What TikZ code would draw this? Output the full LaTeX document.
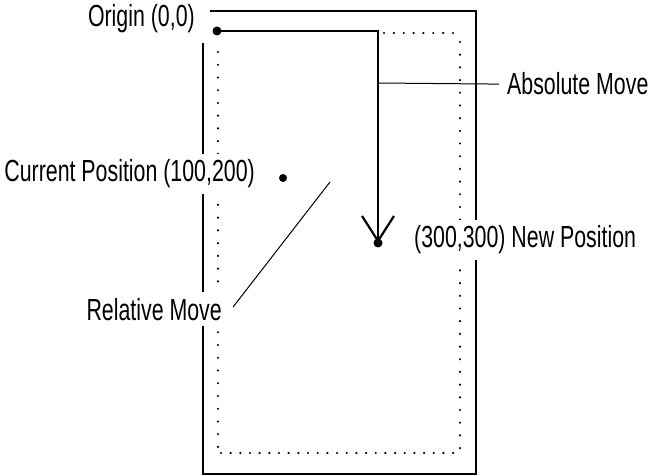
\documentclass[tikz,border=0pt]{standalone}
\usepackage{fontspec}
\setmainfont{Liberation Sans}[FakeStretch=0.70]
\usetikzlibrary{arrows.meta}
\begin{document}
\begin{tikzpicture}[x=1pt,y=-1pt,
  frame/.style={line width=2.8pt,line join=miter},
  pathline/.style={line width=2.4pt},
  leader/.style={line width=1pt},
  dotpt/.style={fill=black},
  dotnode/.style={circle,fill=black,inner sep=0pt,minimum size=9pt},
  lbl/.style={font=\fontsize{30.5}{30.5}\selectfont,fill=white,inner xsep=2pt,inner ysep=6pt}]
\useasboundingbox (0,0) rectangle (649,476);
% outer frame
\draw[frame] (210,11) -- (476,11) -- (476,474) -- (203,474) -- (203,43);
% dotted inner rectangle
\foreach \i in {0,...,7} \fill[dotpt] (384+\i*9.857,33) circle (1.2pt);
\foreach \i in {0,...,32} \fill[dotpt] (460,42+\i*12.69) circle (1.2pt);
\foreach \i in {0,...,24} \fill[dotpt] (221+\i*9.67,453) circle (1.2pt);
\foreach \i in {0,...,31} \fill[dotpt] (218,52+\i*12.74) circle (1.2pt);
% labels (white background interrupts the frame lines)
\node[lbl,anchor=base east] (origintxt) at (197,27) {Origin (0,0)};
\node[lbl,anchor=base west,inner xsep=0pt] (absmove) at (507,95) {Absolute Move};
\node[lbl,anchor=base east] (curtxt) at (257,182) {Current Position (100,200)};
\node[lbl,anchor=base west] (newtxt) at (412,248) {(300,300) New Position};
\node[lbl,anchor=base east] (relmove) at (224,320) {Relative Move};
% points
\node[dotnode] (origin) at (217,31) {};
\node[dotnode,minimum size=8pt] (curpos) at (283,178) {};
\coordinate (tip) at (378,243);
\coordinate (absA) at (378,83);
\coordinate (relA) at (330,182);
% absolute move path
\draw[pathline,-{Straight Barb[length=25pt,width=32pt,line width=2.2pt]}] (origin.center) -| (tip);
\node[dotnode] (newpos) at (tip) {};
% leaders
\draw[leader] (absA) -- ([xshift=-8pt]absmove.west);
\draw[leader] (relA) -- ([xshift=9pt,yshift=2pt]relmove.east);
\end{tikzpicture}
\end{document}
